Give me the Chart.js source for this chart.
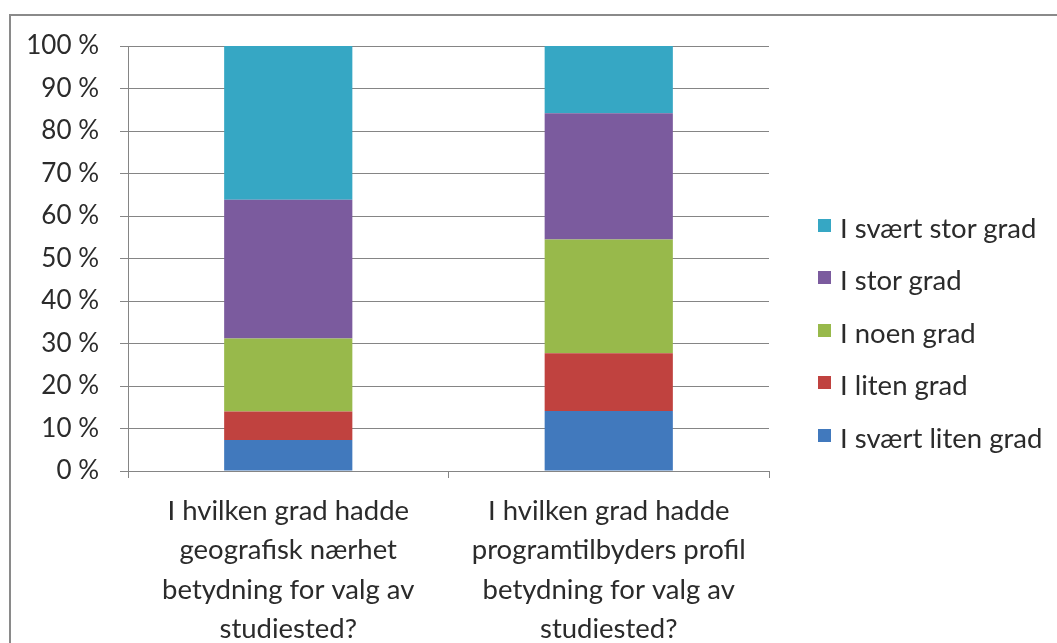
<!DOCTYPE html>
<html>
<head>
<meta charset="utf-8">
<script src="https://cdn.jsdelivr.net/npm/chart.js@4/dist/chart.umd.min.js"></script>
<style>
    html, body { margin: 0; padding: 0; background: #fff; overflow: hidden; }
    #wrap { width: 1057px; height: 643px; position: relative; }
    #legend { position: absolute; left: 818px; top: 0; font-family: Lato, 'Open Sans', sans-serif; font-size: 27.5px; color: #2b2b2b; }
    #legend .item { position: absolute; left: 0; height: 30px; display: flex; align-items: center; white-space: nowrap; }
    #legend .box { width: 13px; height: 13px; margin-right: 9px; position: relative; top: -2px; }
</style>
</head>
<body>
<div id="wrap">
    <canvas id="grad-chart"></canvas>
    <div id="legend"></div>
</div>
<script>
var categories = [
    ["I hvilken grad hadde", "geografisk nærhet", "betydning for valg av", "studiested?"],
    ["I hvilken grad hadde", "programtilbyders profil", "betydning for valg av", "studiested?"]
];
var seriesNames = ["I svært liten grad", "I liten grad", "I noen grad", "I stor grad", "I svært stor grad"];
var svaertLiten = [7.3, 14.1];
var liten = [6.7, 13.6];
var noen = [17.2, 26.8];
var stor = [32.6, 29.7];
var svaertStor = [36.2, 15.8];
var yTicks = [0, 10, 20, 30, 40, 50, 60, 70, 80, 90, 100];

var colors = ["#4179bd", "#c0423f", "#98b94b", "#7b5b9e", "#36a7c4"];
var values = [svaertLiten, liten, noen, stor, svaertStor];

var font = "Lato, 'Open Sans', sans-serif";
var textColor = "#2b2b2b";
var lineColor = "#858585";

// ramme rundt diagrammet (bare topp og venstre er synlig)
var framePlugin = {
    id: 'frame',
    beforeDraw: function (chart) {
        var c = chart.ctx;
        c.save();
        c.strokeStyle = "#8a8a8a";
        c.lineWidth = 2;
        c.beginPath();
        c.moveTo(10, chart.height);
        c.lineTo(10, 15);
        c.lineTo(chart.width, 15);
        c.stroke();
        c.restore();
    }
};

// egen legende til høyre, øverste serie først
var htmlLegendPlugin = {
    id: 'htmlLegend',
    afterUpdate: function (chart) {
        var el = document.getElementById('legend');
        el.innerHTML = '';
        var items = chart.data.datasets.map(function (d) { return d; }).reverse();
        items.forEach(function (d, i) {
            var item = document.createElement('div');
            item.className = 'item';
            item.style.top = (227 - 15 + i * 52.5) + 'px';
            var box = document.createElement('span');
            box.className = 'box';
            box.style.background = d.backgroundColor;
            var txt = document.createElement('span');
            txt.textContent = d.label;
            item.appendChild(box);
            item.appendChild(txt);
            el.appendChild(item);
        });
    }
};

var datasets = [];
for (var i = 0; i < seriesNames.length; i++) {
    datasets.push({
        label: seriesNames[i],
        data: values[i],
        backgroundColor: colors[i],
        borderWidth: 0,
        barPercentage: 0.4,
        categoryPercentage: 1.0
    });
}

var ctx = document.getElementById("grad-chart").getContext("2d");
var myChart = new Chart(ctx, {
    type: 'bar',
    data: {
        labels: categories,
        datasets: datasets
    },
    plugins: [framePlugin, htmlLegendPlugin],
    options: {
        responsive: true,
        maintainAspectRatio: false,
        animation: false,
        layout: {
            padding: { left: 10, top: 46, right: 288, bottom: 0 }
        },
        plugins: {
            tooltip: { enabled: false },
            legend: { display: false }
        },
        scales: {
            x: {
                stacked: true,
                grid: {
                    display: true,
                    drawOnChartArea: false,
                    offset: true,
                    tickLength: 7,
                    color: lineColor
                },
                border: { color: lineColor },
                ticks: {
                    color: textColor,
                    padding: 13,
                    maxRotation: 0,
                    autoSkip: false,
                    font: { family: font, size: 27.5, lineHeight: 1.436 }
                },
                afterFit: function (s) { s.height = 172; }
            },
            y: {
                stacked: true,
                min: 0,
                max: 100,
                afterBuildTicks: function (s) {
                    s.ticks = yTicks.map(function (v) { return { value: v }; });
                },
                grid: {
                    color: lineColor,
                    tickLength: 8
                },
                border: { color: lineColor },
                ticks: {
                    color: textColor,
                    padding: 21,
                    font: { family: font, size: 26 },
                    callback: function (v) { return v + ' %'; }
                },
                afterFit: function (s) { s.width = 118; }
            }
        }
    }
});
</script>
</body>
</html>
